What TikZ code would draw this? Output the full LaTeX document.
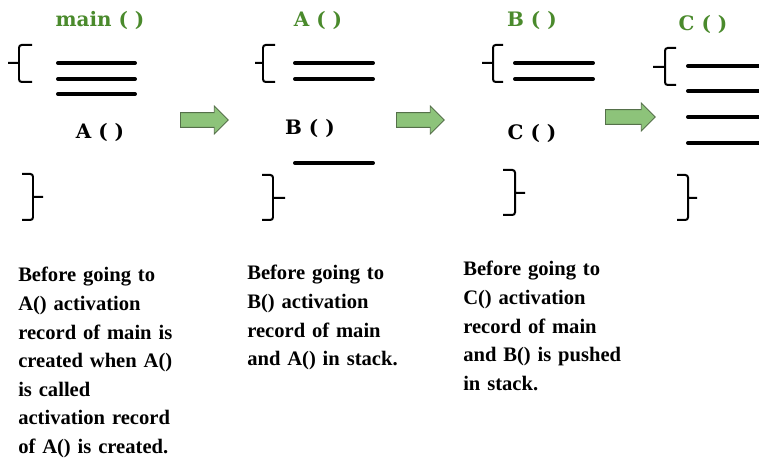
\documentclass[tikz,border=0pt]{standalone}
\usepackage{fontspec}
\setmainfont{Liberation Serif}
\newfontfamily\callfont{DejaVu Serif}
\usetikzlibrary{shapes.arrows}
\definecolor{FGreen}{HTML}{4A8A2C}
\definecolor{AFill}{HTML}{8DC37A}
\definecolor{AEdge}{HTML}{55704A}

\begin{document}
\begin{tikzpicture}[
    x=0.02646cm, y=-0.02646cm,
    title/.style={font=\callfont\bfseries\fontsize{15}{18}\selectfont, text=FGreen, inner sep=0pt},
    call/.style={font=\callfont\bfseries\fontsize{15}{18}\selectfont, inner sep=0pt},
    frame/.style={line width=3pt, line cap=round},
    brace/.style={line width=1.5pt, rounded corners=2pt},
    note/.style={font=\bfseries\fontsize{15.5}{21.5}\selectfont, align=left, text width=6cm, inner sep=0pt, anchor=base west},
    push/.style={single arrow, draw=AEdge, fill=AFill, line width=0.6pt, minimum height=36pt, minimum width=20.3pt, single arrow head extend=4.9pt, inner xsep=0pt, inner ysep=5.25pt, anchor=tail},
]
\useasboundingbox (0,0) rectangle (759,461);

% Function names
\node[title] (tmain) at (100,20) {main ( )};
\node[title] (ta) at (318,20) {A ( )};
\node[title] (tb) at (532,20) {B ( )};
\node[title] (tc) at (703,24) {C ( )};

% Calls inside the bodies
\node[call] (ca) at (100,132) {A ( )};
\node[call] (cb) at (310,128) {B ( )};
\node[call] (cc) at (532,133) {C ( )};

% Braces
\draw[brace] (32,45) -| (19,82) -- (32,82) (8,63) -- (19,63);
\draw[brace] (22,174) -| (33,220) -- (22,220) (33,197) -- (43,197);
\draw[brace] (275,45) -| (263,82) -- (275,82) (255,63) -- (263,63);
\draw[brace] (262,175) -| (273,220) -- (262,220) (273,198) -- (285,198);
\draw[brace] (503,45) -| (493,82) -- (503,82) (482,63) -- (493,63);
\draw[brace] (503,170) -| (515,215) -- (503,215) (515,193) -- (525,193);
\draw[brace] (676,48) -| (665,85) -- (676,85) (653,67) -- (665,67);
\draw[brace] (677,175) -| (688,220) -- (677,220) (688,198) -- (697,198);

% Activation records
\draw[frame] (58,63) -- (135,63);
\draw[frame] (58,79) -- (135,79);
\draw[frame] (58,94) -- (135,94);
\draw[frame] (295,63) -- (373,63);
\draw[frame] (295,79) -- (373,79);
\draw[frame] (295,163) -- (373,163);
\draw[frame] (515,63) -- (593,63);
\draw[frame] (515,79) -- (593,79);
\draw[frame] (688,66) -- (759,66);
\draw[frame] (688,91) -- (759,91);
\draw[frame] (688,117) -- (759,117);
\draw[frame] (688,143) -- (759,143);

% Block arrows
\node[push] (p1) at (180,120) {};
\node[push] (p2) at (396,120) {};
\node[push, minimum height=37.5pt] (p3) at (605,117) {};

% Notes
\node[note] (n1) at (18,282) {Before going to\\A() activation\\record of main is\\created when A()\\is called\\activation record\\of A() is created.};
\node[note] (n2) at (247,280) {Before going to\\B() activation\\record of main\\and A() in stack.};
\node[note] (n3) at (463,276) {Before going to\\C() activation\\record of main\\and B() is pushed\\in stack.};

\end{tikzpicture}
\end{document}
